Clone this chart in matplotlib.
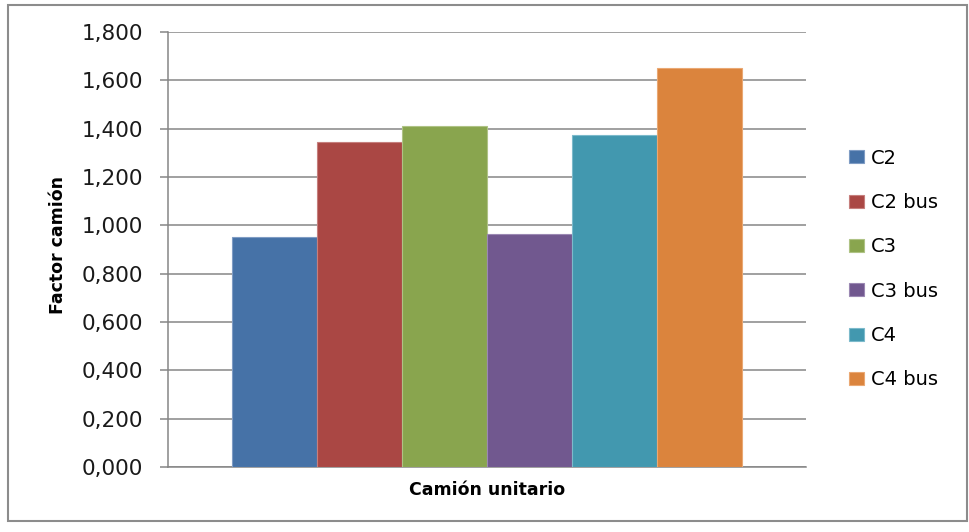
import matplotlib
matplotlib.use("Agg")
import matplotlib.pyplot as plt
from matplotlib.patches import Rectangle
from matplotlib.ticker import FuncFormatter

# Truck factor per vehicle class (single-unit trucks)
series = ["C2", "C2 bus", "C3", "C3 bus", "C4", "C4 bus"]
values = [0.952, 1.344, 1.410, 0.963, 1.372, 1.650]
colors = ["#4672A7", "#AA4744", "#89A54E", "#71588F", "#4298AF", "#DB843D"]
edges = ["#7F9CC4", "#C67F7D", "#AFC385", "#9B88B3", "#7CBACB", "#EAA873"]
category = "Camión unitario"
y_label = "Factor camión"
y_ticks = [0.0, 0.2, 0.4, 0.6, 0.8, 1.0, 1.2, 1.4, 1.6, 1.8]

W, H = 969, 532
fig = plt.figure(figsize=(W / 100, H / 100), dpi=100)
fig.patch.set_facecolor("white")

# outer chart border
fig.patches.append(Rectangle((8 / W, 1 - 521 / H), (967 - 8) / W, (521 - 5) / H,
                             transform=fig.transFigure, fill=False,
                             edgecolor="#8C8C8C", linewidth=1.5))

left, right, top, bottom = 168, 806, 32, 467
ax = fig.add_axes([left / W, 1 - bottom / H, (right - left) / W, (bottom - top) / H])

n = len(series)
gap = 1.5
w = 1.0 / (n + gap)
start = -0.5 + gap * w / 2
for i, (s, v) in enumerate(zip(series, values)):
    ax.bar(start + w * (i + 0.5), v, width=w, color=colors[i], edgecolor=edges[i],
           linewidth=0.8, label=s, zorder=3)

ax.set_xlim(-0.5, 0.5)
ax.set_ylim(0, 1.8)
ax.set_yticks(y_ticks)
ax.yaxis.set_major_formatter(FuncFormatter(lambda v, p: f"{v:.3f}".replace(".", ",")))
ax.set_xticks([])

grid_c = "#868686"
ax.grid(axis="y", color=grid_c, linewidth=1.1, zorder=0)
for side in ["top", "right"]:
    ax.spines[side].set_visible(False)
for side in ["left", "bottom"]:
    ax.spines[side].set_color(grid_c)
    ax.spines[side].set_linewidth(1.1)
ax.tick_params(axis="y", length=6, width=1.1, color=grid_c, pad=12,
               labelsize=15.5, labelcolor="#1a1a1a")

fig.text(58 / W, 1 - 245 / H, y_label, rotation=90, ha="center", va="center",
         fontsize=12.5, fontweight="bold", color="black")
fig.text(487 / W, 1 - 490 / H, category, ha="center", va="center",
         fontsize=12.5, fontweight="bold", color="black")

fig.legend(loc="center left", bbox_to_anchor=(849 / W, 1 - 269 / H),
           frameon=False, fontsize=14, handlelength=0.75, handleheight=0.65,
           handletextpad=0.4, labelspacing=1.3, borderpad=0, borderaxespad=0)

fig.savefig("out.png", dpi=100)
